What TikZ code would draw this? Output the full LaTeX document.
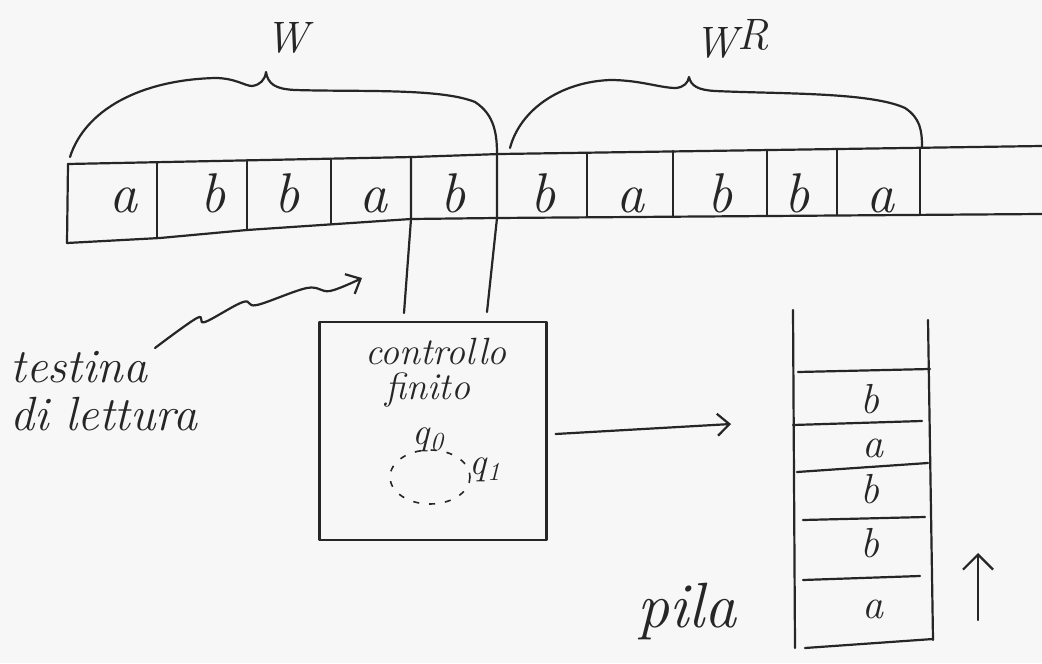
\documentclass[tikz,border=0pt]{standalone}
\usetikzlibrary{arrows.meta}
\begin{document}
\begin{tikzpicture}[x=0.5pt,y=-0.5pt,
  ink/.style={draw=black!85, line width=1.1pt, line cap=round, line join=round},
  barb/.style={-{Straight Barb[length=6pt,width=11pt,line width=1.1pt]}},
  hand/.style={text=black!85, inner sep=0pt, font=\itshape},
  tapesym/.style={hand, anchor=base, font=\fontsize{28}{30}\selectfont\itshape},
  stacksym/.style={hand, anchor=base, font=\fontsize{21}{23}\selectfont\itshape},
  note/.style={hand, anchor=base west, font=\fontsize{24}{26}\selectfont\itshape},
  inbox/.style={hand, anchor=base, font=\fontsize{19}{21}\selectfont\itshape},
  brlabel/.style={hand, anchor=base, font=\fontsize{22}{24}\selectfont\itshape}
]
\useasboundingbox (0,0) rectangle (1042,663);
\fill[black!3] (0,0) rectangle (1042,663);

% ---- input tape ----
\draw[ink] (68,164) -- (413,157) -- (500,154) -- (1042,146);
\draw[ink] (67,243) -- (160,238) -- (247,230) -- (411,219) -- (497,218) -- (1042,214);
\draw[ink] (68,164) -- (67,243);
\foreach \x/\a/\b in {157/162/238, 247/160/230, 331/159/224, 587/153/217,
                      673/151/217, 767/150/216, 837/149/215, 920/148/215}
  \draw[ink] (\x,\a) -- (\x,\b);
\foreach \x/\c in {123/a, 213/b, 287/b, 373/a, 453/b, 543/b, 630/a, 720/b, 797/b, 880/a}
  \node[tapesym] (cell-\x) at (\x,213) {\c};

% ---- braces over w and w^R ----
\draw[ink] (70,157) .. controls (85,110) and (140,80) .. (215,78)
  .. controls (235,78) and (245,86) .. (252,86)
  .. controls (260,85) and (265,80) .. (266,72)
  .. controls (268,84) and (275,89) .. (295,90)
  .. controls (360,92) and (440,88) .. (475,102)
  .. controls (495,115) and (497,135) .. (497,155);
\draw[ink] (510,148) .. controls (520,110) and (560,82) .. (610,80)
  .. controls (640,80) and (660,88) .. (676,88)
  .. controls (684,87) and (688,83) .. (689,77)
  .. controls (691,86) and (698,90) .. (715,91)
  .. controls (780,94) and (870,92) .. (905,108)
  .. controls (920,118) and (922,130) .. (922,147);
\node[brlabel] (w) at (287,53) {W};
\node[brlabel] (wr) at (732,58) {W\raisebox{4pt}{R}};

% ---- finite control and reading head ----
\node[ink, draw, minimum width=113.5pt, minimum height=109pt, inner sep=0pt] (ctrl) at (433,431) {};
\coordinate (hd-l-top) at (411,157);
\coordinate (hd-r-top) at (497,154);
\coordinate (hd-l) at (404,313);
\coordinate (hd-r) at (487,312);
\draw[ink] (hd-l-top) -- (411,219) -- (hd-l);
\draw[ink] (hd-r-top) -- (497,218) -- (hd-r);

\node[inbox] (ctl1) at (436,364) {controllo};
\node[inbox] (ctl2) at (428,399) {finito};
\draw[black!85, line width=0.8pt, dash pattern=on 3pt off 5pt] (430,477) ellipse [x radius=40, y radius=27];
\node[hand, font=\fontsize{19}{20}\selectfont\itshape] (q0) at (428,440) {q\raisebox{-3pt}{\fontsize{13}{13}\selectfont 0}};
\node[hand, font=\fontsize{19}{20}\selectfont\itshape] (q1) at (485,470) {q\raisebox{-3pt}{\fontsize{13}{13}\selectfont 1}};

% ---- label with wavy pointer ----
\node[note] (tl1) at (10,382) {testina};
\node[note] (tl2) at (10,430) {di lettura};
\coordinate (wave-end) at (362,278);
\draw[ink, barb] plot[smooth, tension=0.6] coordinates
  {(155,348) (197,318) (205,322) (243,302) (257,305) (307,288) (330,291) (wave-end)};

% ---- stack ----
\draw[ink] (793,310) -- (795,648);
\draw[ink] (928,320) -- (933,640);
\draw[ink] (798,372) -- (930,369);
\draw[ink] (793,425) -- (922,421);
\draw[ink] (797,472) -- (928,463);
\draw[ink] (803,520) -- (925,517);
\draw[ink] (803,580) -- (920,576);
\draw[ink] (805,648) -- (933,639);
\node[stacksym] (s5) at (870,413) {b};
\node[stacksym] (s4) at (873,457) {a};
\node[stacksym] (s3) at (870,503) {b};
\node[stacksym] (s2) at (870,557) {b};
\node[stacksym] (s1) at (873,618) {a};
\node[note, font=\fontsize{32}{34}\selectfont\itshape] (pila) at (637,627) {pila};

\coordinate (stk-in) at (731,424);
\draw[ink, barb] ([shift={(4pt,-1.5pt)}]ctrl.east) -- (stk-in);
\coordinate (up-a) at (978,620);
\coordinate (up-b) at (978,553);
\draw[ink, -{Straight Barb[length=7.5pt,width=15pt,line width=1.1pt]}] (up-a) -- (up-b);
\end{tikzpicture}
\end{document}
